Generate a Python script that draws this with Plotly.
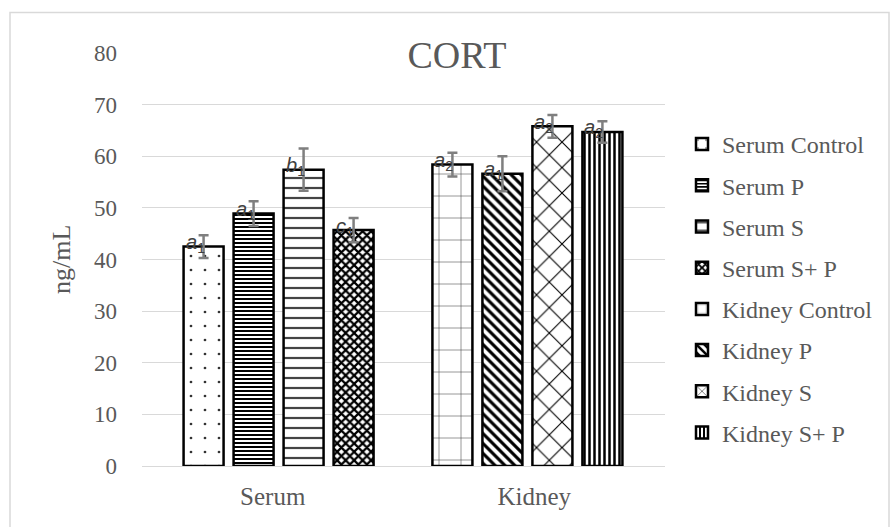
import plotly.graph_objects as go

categories = ["Serum", "Kidney"]
serum_names = ["Serum Control", "Serum P", "Serum S", "Serum S+ P"]
kidney_names = ["Kidney Control", "Kidney P", "Kidney S", "Kidney S+ P"]
serum_values = [42.5, 48.9, 57.4, 45.7]
serum_sd = [2.2, 2.4, 4.1, 2.35]
kidney_values = [58.4, 56.6, 65.8, 64.7]
kidney_sd = [2.3, 3.4, 2.2, 2.1]
serum_letters = ["a", "a", "b", "c"]
serum_subs = ["1", "1", "1", "1"]
kidney_letters = ["a", "a", "a", "a"]
kidney_subs = ["2", "1", "2", "2"]
y_ticks = [0, 10, 20, 30, 40, 50, 60, 70, 80]

# layout constants (pixel geometry of the plot)
PL, PR, PT, PB = 142, 665, 53, 466
W, H = 891, 527
unit_px = (PR - PL) / 2.0
bar_w = 40 / unit_px
pitch = 50 / unit_px
start = {"Serum": -0.341, "Kidney": -0.3894}

patterns = [
    dict(shape=".", size=14, solidity=0.03, fg="#333333"),
    dict(shape="-", size=4, solidity=0.5, fg="black"),
    dict(shape="-", size=10, solidity=0.22, fg="#444444"),
    dict(shape="x", size=6, solidity=0.6, fg="black"),
    dict(shape="+", size=22, solidity=0.05, fg="#444444"),
    dict(shape="\\", size=7, solidity=0.45, fg="black"),
    dict(shape="x", size=18, solidity=0.12, fg="black"),
    dict(shape="|", size=5, solidity=0.5, fg="black"),
]

fig = go.Figure()
annotations = []
groups = [
    ("Serum", serum_names, serum_values, serum_sd, serum_letters, serum_subs),
    ("Kidney", kidney_names, kidney_values, kidney_sd, kidney_letters, kidney_subs),
]
k = 0
for gi, (cat, names, vals, sds, lets, subs) in enumerate(groups):
    for i, (nm, v, sd, L, s) in enumerate(zip(names, vals, sds, lets, subs)):
        off = start[cat] + i * pitch
        p = patterns[k]
        fig.add_trace(go.Bar(
            x=[cat], y=[v], name=nm, legendgroup=nm,
            offset=off, width=bar_w,
            marker=dict(color="white",
                        line=dict(color="black", width=2.5),
                        pattern=dict(shape=p["shape"], size=p["size"], solidity=p["solidity"],
                                     fgcolor=p["fg"], bgcolor="white", fillmode="replace")),
            error_y=dict(type="data", array=[sd], visible=True, color="#7f7f7f",
                         thickness=2.5, width=5),
        ))
        annotations.append(dict(
            x=gi + off, y=v, xref="x", yref="y",
            text="<i>%s</i><sub>%s</sub>" % (L, s), showarrow=False,
            xanchor="left", yanchor="middle", yshift=3,
            font=dict(family="Liberation Sans", size=20, color="#404040"),
        ))
        k += 1

# y axis title
annotations.append(dict(
    x=(61 - PL) / (PR - PL), y=(PB - 260) / (PB - PT), xref="paper", yref="paper",
    text="ng/mL", textangle=-90, showarrow=False, xanchor="center", yanchor="middle",
    font=dict(family="Liberation Serif", size=26, color="#595959"),
))

fig.update_layout(
    width=W, height=H,
    margin=dict(l=PL, r=W - PR, t=PT, b=H - PB, pad=0, autoexpand=False),
    paper_bgcolor="white", plot_bgcolor="white",
    barmode="overlay",
    title=dict(text="CORT", x=457 / W, xref="container", xanchor="center",
               y=1 - 55 / H, yref="container", yanchor="middle",
               font=dict(family="Liberation Serif", size=38, color="#595959")),
    xaxis=dict(type="category", categoryorder="array", categoryarray=categories,
               range=[-0.5, 1.5], showline=True, linecolor="#d9d9d9", linewidth=1,
               showgrid=False, ticks="", ticklabelstandoff=8, automargin=False,
               tickfont=dict(family="Liberation Serif", size=25, color="#595959")),
    yaxis=dict(range=[0, 80], tickvals=y_ticks, showgrid=True, gridcolor="#d9d9d9",
               gridwidth=1, zeroline=False, showline=False, ticks="",
               ticklabelstandoff=24, automargin=False,
               tickfont=dict(family="Liberation Serif", size=23, color="#595959")),
    legend=dict(x=(682 - PL) / (PR - PL), y=(PB - 122) / (PB - PT), xanchor="left", yanchor="top",
                font=dict(family="Liberation Serif", size=24, color="#595959"),
                tracegroupgap=7, bgcolor="rgba(0,0,0,0)"),
    annotations=annotations,
    shapes=[dict(type="rect", xref="paper", yref="paper",
                 x0=(10 - PL) / (PR - PL), x1=(889 - PL) / (PR - PL),
                 y0=(PB - 530) / (PB - PT), y1=(PB - 12.5) / (PB - PT),
                 line=dict(color="#d9d9d9", width=1.5), fillcolor="rgba(0,0,0,0)", layer="below")],
)

fig.write_html("out.html", post_script="document.body.style.margin='0';",
               config={"displayModeBar": False})
